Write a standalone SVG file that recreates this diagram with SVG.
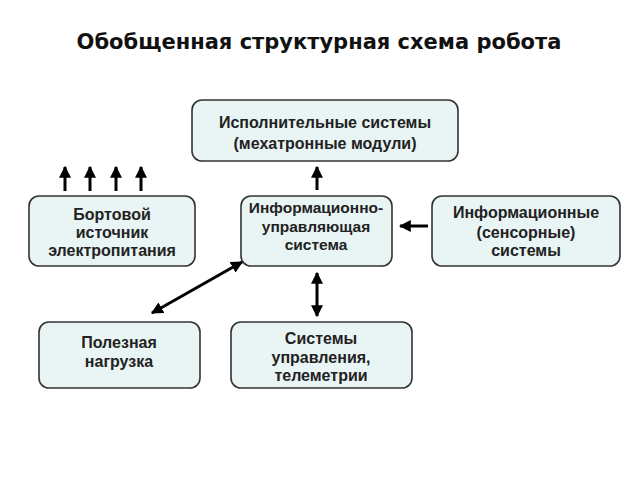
<svg xmlns="http://www.w3.org/2000/svg" width="640" height="480" viewBox="0 0 640 480">
<defs>
<style>
.box{fill:#e9f4f4;stroke:#333;stroke-width:1.6}
.t{font-family:"Liberation Sans",Arial,sans-serif;font-weight:bold;font-size:16px;fill:#222;text-anchor:middle}
.c{stroke:#000;stroke-width:3;fill:none}
</style>
<marker id="ah" viewBox="0 0 10 10" refX="9" refY="5" markerWidth="4" markerHeight="4" orient="auto-start-reverse" markerUnits="strokeWidth">
<path d="M0,0 L10,5 L0,10 Z" fill="#000"/>
</marker>
</defs>
<rect width="640" height="480" fill="#fff"/>
<text x="319" y="49" style="font-family:'DejaVu Sans',Verdana,sans-serif;font-weight:bold;font-size:21px;fill:#111;text-anchor:middle">Обобщенная структурная схема робота</text>
<g id="n1"><rect class="box" x="192" y="100" width="266" height="61" rx="10"/>
<text class="t" x="325" y="128">Исполнительные системы</text><text class="t" x="325" y="149">(мехатронные модули)</text></g>
<g id="n2"><rect class="box" x="29" y="196" width="166" height="70" rx="10"/>
<text class="t" x="112" y="220">Бортовой</text><text class="t" x="112" y="238">источник</text><text class="t" x="112" y="256">электропитания</text></g>
<g id="n3"><rect class="box" x="241" y="196" width="151" height="70" rx="10"/>
<text class="t" x="316" y="213" style="font-size:15.5px">Информационно-</text><text class="t" x="316" y="232" style="font-size:15.5px">управляющая</text><text class="t" x="316" y="250" style="font-size:15.5px">система</text></g>
<g id="n4"><rect class="box" x="432" y="196" width="188" height="70" rx="10"/>
<text class="t" x="526" y="218">Информационные</text><text class="t" x="526" y="238">(сенсорные)</text><text class="t" x="526" y="256">системы</text></g>
<g id="n5"><rect class="box" x="39" y="322" width="161" height="66" rx="10"/>
<text class="t" x="119" y="348">Полезная</text><text class="t" x="119" y="367">нагрузка</text></g>
<g id="n6"><rect class="box" x="231" y="322" width="181" height="66" rx="10"/>
<text class="t" x="321" y="344">Системы</text><text class="t" x="321" y="363">управления,</text><text class="t" x="321" y="381">телеметрии</text></g>
<g id="connectors">
<line class="c" x1="65" y1="191" x2="65" y2="167" marker-end="url(#ah)"/>
<line class="c" x1="90" y1="191" x2="90" y2="167" marker-end="url(#ah)"/>
<line class="c" x1="116" y1="191" x2="116" y2="167" marker-end="url(#ah)"/>
<line class="c" x1="141" y1="191" x2="141" y2="167" marker-end="url(#ah)"/>
<line class="c" x1="317" y1="190" x2="317" y2="167" marker-end="url(#ah)"/>
<line class="c" x1="428" y1="226" x2="400" y2="226" marker-end="url(#ah)"/>
<line class="c" x1="152" y1="313" x2="242" y2="262" marker-start="url(#ah)" marker-end="url(#ah)"/>
<line class="c" x1="317" y1="273" x2="317" y2="316" marker-start="url(#ah)" marker-end="url(#ah)"/>
</g>
</svg>
